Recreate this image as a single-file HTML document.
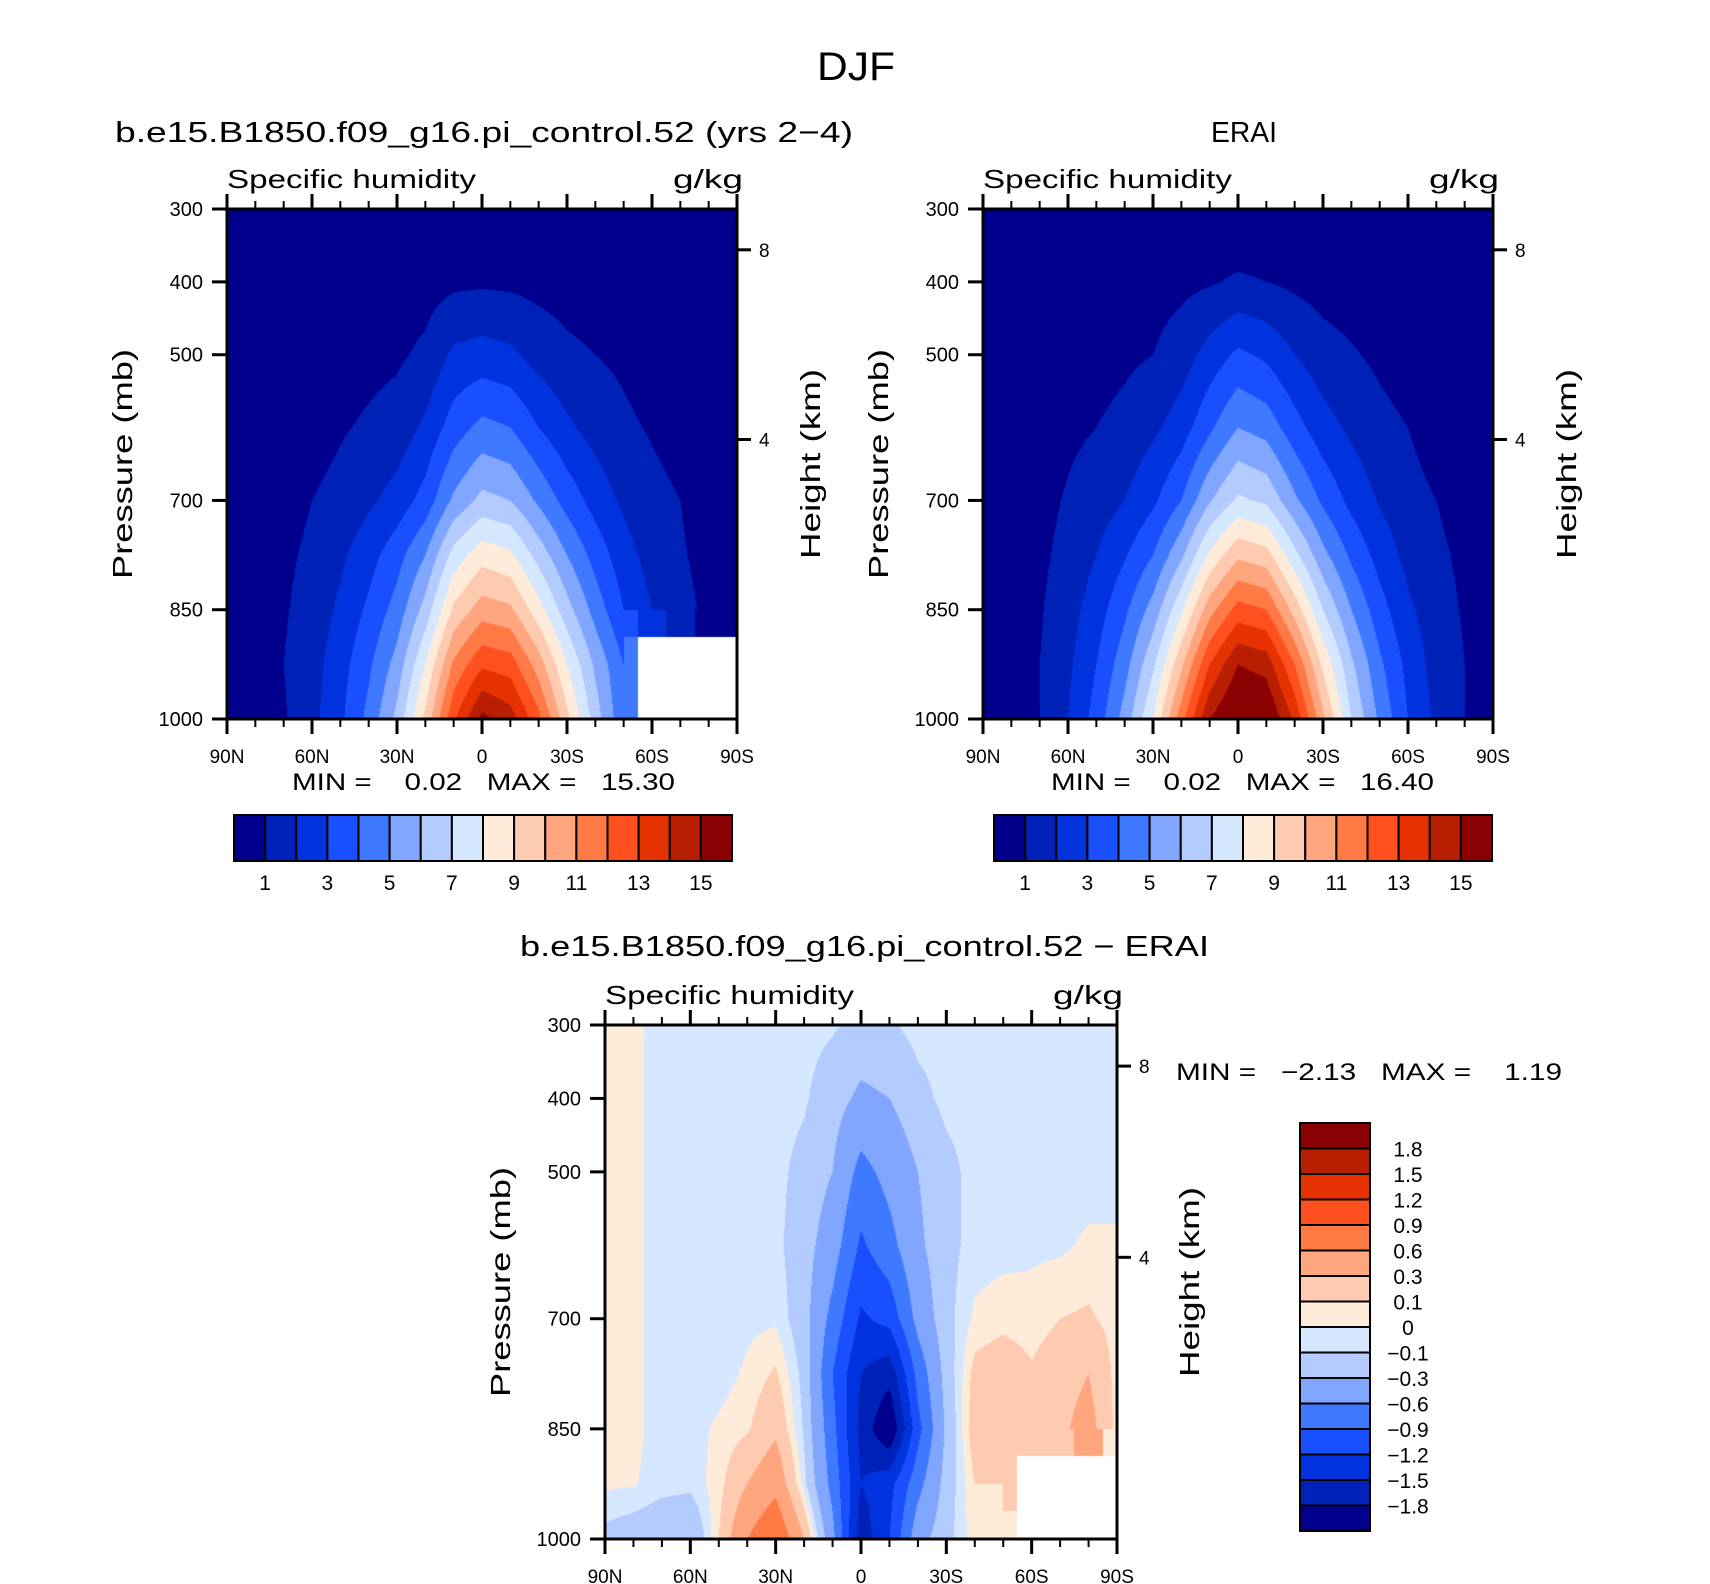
<!DOCTYPE html>
<html><head><meta charset="utf-8"><style>
html,body{margin:0;padding:0;background:#fff;}
#wrap{position:relative;width:1710px;height:1584px;overflow:hidden;}
canvas{position:absolute;}
svg{position:absolute;left:0;top:0;}
text{font-family:"Liberation Sans",sans-serif;fill:#000;white-space:pre;}
</style></head><body>
<div id="wrap">
<canvas id="c1" width="510" height="510" style="left:227px;top:209px"></canvas>
<canvas id="c2" width="510" height="510" style="left:983px;top:209px"></canvas>
<canvas id="c3" width="512" height="514" style="left:605px;top:1025px"></canvas>
<svg id="s" width="1710" height="1584"></svg>
</div>
<script>
// ---- data ----
const lats = [90,80,70,60,50,40,30,20,10,0,-10,-20,-30,-40,-50,-60,-70,-80,-90];
const pLevels = [300,400,500,600,700,775,850,925,1000];
const N = NaN;
const modelQ = [
[0.1,0.1,0.1,0.1,0.1,0.1,0.1,0.1,0.1,0.1,0.1,0.1,0.1,0.1,0.1,0.1,0.1,0.1,0.1],
[0.1,0.1,0.2,0.2,0.3,0.4,0.5,0.6,0.8,0.85,0.8,0.7,0.6,0.5,0.4,0.3,0.2,0.2,0.1],
[0.1,0.1,0.2,0.3,0.5,0.7,0.85,1.2,2.2,2.4,2.2,1.6,1.2,1.0,0.8,0.5,0.3,0.2,0.1],
[0.2,0.3,0.4,0.6,0.9,1.15,1.4,2.2,3.5,4.3,4.0,3.0,2.2,1.6,1.2,0.9,0.6,0.4,0.3],
[0.3,0.4,0.6,1.0,1.3,1.8,2.4,3.4,5.2,6.3,6.0,4.8,3.6,2.6,1.8,1.3,1.0,0.6,0.4],
[0.4,0.5,0.8,1.2,1.8,2.6,3.6,5.0,7.4,8.6,8.2,6.6,5.0,3.6,2.4,1.6,1.1,0.7,0.5],
[0.5,0.6,0.9,1.4,2.2,3.2,4.4,6.4,9.2,10.5,10.2,8.4,6.4,4.6,3.0,2.0,1.3,0.8,0.5],
[0.5,0.7,1.0,1.6,2.6,3.8,5.4,8.0,11.2,12.8,12.5,10.5,8.0,5.8,4.0,N,N,N,N],
[0.5,0.7,0.9,1.7,2.8,4.3,6.3,9.3,12.8,15.3,14.5,12.3,9.3,6.5,4.2,N,N,N,N]];
const eraiQ = [
[0.1,0.1,0.1,0.1,0.1,0.1,0.1,0.1,0.1,0.1,0.1,0.1,0.1,0.1,0.1,0.1,0.1,0.1,0.1],
[0.1,0.1,0.2,0.3,0.4,0.5,0.6,0.75,0.9,1.15,1.0,0.8,0.6,0.5,0.4,0.3,0.2,0.1,0.1],
[0.1,0.2,0.3,0.4,0.6,0.8,1.0,1.5,2.4,3.2,2.8,2.0,1.4,1.1,0.8,0.5,0.3,0.2,0.1],
[0.2,0.3,0.5,0.8,1.0,1.3,1.8,2.5,3.8,5.0,4.6,3.4,2.4,1.8,1.3,1.0,0.6,0.4,0.2],
[0.3,0.4,0.7,1.1,1.5,2.0,2.8,4.0,5.9,7.2,6.8,5.2,3.8,2.7,1.9,1.3,1.0,0.6,0.3],
[0.4,0.5,0.8,1.3,2.0,2.9,4.0,5.8,8.2,9.8,9.4,7.3,5.3,3.8,2.6,1.7,1.2,0.8,0.4],
[0.5,0.6,0.9,1.6,2.5,3.8,5.4,7.8,10.6,12.4,12.0,9.6,7.0,5.0,3.4,2.2,1.4,0.9,0.5],
[0.5,0.6,1.0,1.8,3.0,4.6,6.8,9.8,13.0,15.0,14.6,12.0,8.8,6.2,4.2,2.7,1.6,1.0,0.5],
[0.5,0.6,1.0,2.0,3.4,5.4,8.0,11.6,15.0,16.4,16.2,13.8,10.2,7.0,4.8,3.0,1.8,1.0,0.5]];
const diffQ = [
[0.05,0.03,-0.05,-0.05,-0.05,-0.05,-0.05,-0.05,-0.08,-0.15,-0.12,-0.05,-0.05,-0.05,-0.05,-0.05,-0.05,-0.05,-0.05],
[0.05,0.03,-0.05,-0.05,-0.05,-0.05,-0.05,-0.08,-0.2,-0.35,-0.3,-0.15,-0.06,-0.05,-0.05,-0.05,-0.05,-0.05,-0.05],
[0.05,0.03,-0.05,-0.05,-0.05,-0.05,-0.06,-0.15,-0.3,-0.7,-0.5,-0.3,-0.15,-0.05,-0.05,-0.05,-0.05,-0.05,-0.05],
[0.05,0.03,-0.05,-0.05,-0.05,-0.05,-0.06,-0.2,-0.45,-0.95,-0.7,-0.35,-0.15,-0.05,-0.04,-0.02,-0.02,0.02,0.02],
[0.05,0.03,-0.05,-0.05,-0.05,-0.03,-0.02,-0.2,-0.7,-1.25,-1.1,-0.5,-0.15,0.02,0.06,0.04,0.1,0.12,0.05],
[0.05,0.03,-0.05,-0.05,-0.05,0.02,0.12,-0.15,-0.9,-1.5,-1.7,-0.8,-0.2,0.15,0.2,0.12,0.2,0.3,0.05],
[0.05,0.03,-0.05,-0.04,0.02,0.08,0.25,-0.12,-0.8,-1.6,-2.1,-1.0,-0.25,0.2,0.25,0.15,0.25,0.4,0.05],
[0.02,0.01,-0.05,-0.06,0.05,0.3,0.5,-0.05,-0.7,-1.5,-1.3,-0.7,-0.2,0.1,0.1,N,N,N,N],
[-0.15,-0.2,-0.25,-0.3,0.1,0.6,0.9,0.3,-0.5,-1.7,-1.2,-0.4,-0.15,0.05,0.05,N,N,N,N]];
const qLevels = [1,2,3,4,5,6,7,8,9,10,11,12,13,14,15];
const qLabels = ["1","3","5","7","9","11","13","15"];
const dLevels = [-1.8,-1.5,-1.2,-0.9,-0.6,-0.3,-0.1,0,0.1,0.3,0.6,0.9,1.2,1.5,1.8];
const dLabels = ["-1.8","-1.5","-1.2","-0.9","-0.6","-0.3","-0.1","0","0.1","0.3","0.6","0.9","1.2","1.5","1.8"];
const pTicks = [300,400,500,700,850,1000];
const latTicks = [90,60,30,0,-30,-60,-90];
const latTickLabels = ["90N","60N","30N","0","30S","60S","90S"];
const kmTicks = [8,4];
const colors = ['#00008c','#0021b8','#0033dd','#1a4fff','#3e79ff','#80a6ff','#b3cbff','#d6e8ff','#ffebd9','#ffcbb0','#ffa67f','#ff7a45','#ff501f','#e53200','#b81e00','#8b0000'];

function hex(c){return [parseInt(c.substr(1,2),16),parseInt(c.substr(3,2),16),parseInt(c.substr(5,2),16)];}
const rgb = colors.map(hex);
function drawField(id, field, levels){
  const cv=document.getElementById(id), ctx=cv.getContext('2d');
  const W=cv.width,H=cv.height, img=ctx.createImageData(W,H);
  for(let py=0;py<H;py++){
    const p=300+(py+0.5)/H*700;
    let j=0; while(j<pLevels.length-2 && p>pLevels[j+1]) j++;
    const fy=(p-pLevels[j])/(pLevels[j+1]-pLevels[j]);
    for(let px=0;px<W;px++){
      const lat=90-(px+0.5)/W*180;
      let fi=(90-lat)/10; let i=Math.min(17,Math.floor(fi)); const fx=fi-i;
      const a=field[j][i],b=field[j][i+1],c=field[j+1][i],d=field[j+1][i+1];
      let v;
      if(isNaN(a)||isNaN(b)||isNaN(c)||isNaN(d)){
        v=[[a,fx+fy],[b,(1-fx)+fy],[c,fx+(1-fy)],[d,(1-fx)+(1-fy)]].sort((u,w)=>u[1]-w[1])[0][0];
      } else v=a*(1-fx)*(1-fy)+b*fx*(1-fy)+c*(1-fx)*fy+d*fx*fy;
      const k=(py*W+px)*4;
      if(isNaN(v)){img.data[k]=255;img.data[k+1]=255;img.data[k+2]=255;img.data[k+3]=255;continue;}
      let ci=0; while(ci<levels.length && v>=levels[ci]) ci++;
      const col=rgb[ci];
      img.data[k]=col[0];img.data[k+1]=col[1];img.data[k+2]=col[2];img.data[k+3]=255;
    }
  }
  ctx.putImageData(img,0,0);
}
drawField('c1',modelQ,qLevels);
drawField('c2',eraiQ,qLevels);
drawField('c3',diffQ,dLevels);

const svg=document.getElementById('s'), NS='http://www.w3.org/2000/svg';
function el(tag,attrs,parent){const e=document.createElementNS(NS,tag);for(const k in attrs)e.setAttribute(k,attrs[k]);(parent||svg).appendChild(e);return e;}
function txt(s,x,y,size,anchor,extra){const t=el('text',Object.assign({x:x,y:y,'font-size':size,'text-anchor':anchor||'start'},extra||{}));t.textContent=s;return t;}
function kmToP(z){return 1013.25*Math.pow(1-2.2558e-5*z*1000,5.256);}

function panel(x0,y0,W,H,name,cfg){
  const g=el('g',{});
  
  
  const xs=lat=>x0+(90-lat)/180*W, ys=p=>y0+(p-300)/700*H;
  el('rect',{x:x0,y:y0,width:W,height:H,fill:'none',stroke:'#000','stroke-width':3},g);
  for(let lat=90;lat>=-90;lat-=10){
    const maj=lat%30===0, L=maj?15:8, x=xs(lat);
    el('line',{x1:x,y1:y0,x2:x,y2:y0-L,stroke:'#000','stroke-width':maj?3:2},g);
    el('line',{x1:x,y1:y0+H,x2:x,y2:y0+H+L,stroke:'#000','stroke-width':maj?3:2},g);
  }
  latTicks.forEach((lat,i)=>{const t=txt(latTickLabels[i],xs(lat),cfg.xlabY,19,'middle');g.appendChild(t);});
  pTicks.forEach(p=>{const y=ys(p);el('line',{x1:x0,y1:y,x2:x0-15,y2:y,stroke:'#000','stroke-width':3},g);
    const t=txt(String(p),x0-24,y+7,20,'end');g.appendChild(t);});
  kmTicks.forEach(k=>{const y=ys(kmToP(k));el('line',{x1:x0+W,y1:y,x2:x0+W+14,y2:y,stroke:'#000','stroke-width':3},g);
    const t=txt(String(k),x0+W+22,y+7,19,'start');g.appendChild(t);});
  let t=txt('Specific humidity',x0,y0-21,26,'start',{textLength:249,lengthAdjust:'spacingAndGlyphs'});
  
  t=txt('g/kg',x0+W+6,y0-21,26,'end',{textLength:70,lengthAdjust:'spacingAndGlyphs'});
  
  const cy=y0+H/2;
  t=txt('Pressure (mb)',cfg.pX,cy,28,'middle',{transform:`rotate(-90 ${cfg.pX} ${cy})`,textLength:230,lengthAdjust:'spacingAndGlyphs'});
  
  t=txt('Height (km)',cfg.hX,cy,28,'middle',{transform:`rotate(-90 ${cfg.hX} ${cy})`,textLength:190,lengthAdjust:'spacingAndGlyphs'});
  
}
panel(227,209,510,510,'model-panel',{xlabY:763,pX:132,hX:820});
panel(983,209,510,510,'erai-panel',{xlabY:763,pX:888,hX:1576});
panel(605,1025,512,514,'diff-panel',{xlabY:1583,pX:510,hX:1199});

function hbar(x0,y0,W,H,name,labelY){
  const n=16,bw=W/n;
  for(let i=0;i<n;i++){const r=el('rect',{x:x0+i*bw,y:y0,width:bw,height:H,fill:colors[i],stroke:'#000','stroke-width':2});
    }
  qLevels.forEach((lv,k)=>{const lab=String(lv); if(qLabels.indexOf(lab)<0)return;
    const t=txt(lab,x0+(k+1)*bw,labelY,21,'middle');});
}
hbar(234,815,498,46,'model-colorbar',890);
hbar(994,815,498,46,'erai-colorbar',890);
(function(){const x0=1300,y0=1123,W=70,H=408,n=16,bh=H/n;
  for(let i=0;i<n;i++){const r=el('rect',{x:x0,y:y0+i*bh,width:W,height:bh,fill:colors[n-1-i],stroke:'#000','stroke-width':2});
    }
  dLevels.forEach((lv,k)=>{const y=y0+(n-1-k)*bh;const s=dLabels[k].replace('-','\u2212');
    const t=txt(s,1408,y+8,21,'middle');});
})();

let t;
t=txt('DJF',856,80,40,'middle',{textLength:78,lengthAdjust:'spacingAndGlyphs'});
t=txt('b.e15.B1850.f09_g16.pi_control.52 (yrs 2\u22124)',115,142,29,'start',{textLength:738,lengthAdjust:'spacingAndGlyphs'});
t=txt('ERAI',1244,142,29,'middle',{textLength:66,lengthAdjust:'spacingAndGlyphs'});
t=txt('b.e15.B1850.f09_g16.pi_control.52 \u2212 ERAI',520,956,29,'start',{textLength:689,lengthAdjust:'spacingAndGlyphs'});
t=txt('MIN =    0.02   MAX =   15.30',292,790,24,'start',{textLength:383,lengthAdjust:'spacingAndGlyphs'});
t=txt('MIN =    0.02   MAX =   16.40',1051,790,24,'start',{textLength:383,lengthAdjust:'spacingAndGlyphs'});
t=txt('MIN =   \u22122.13   MAX =    1.19',1176,1080,24,'start',{textLength:386,lengthAdjust:'spacingAndGlyphs'});
</script>
</body></html>
